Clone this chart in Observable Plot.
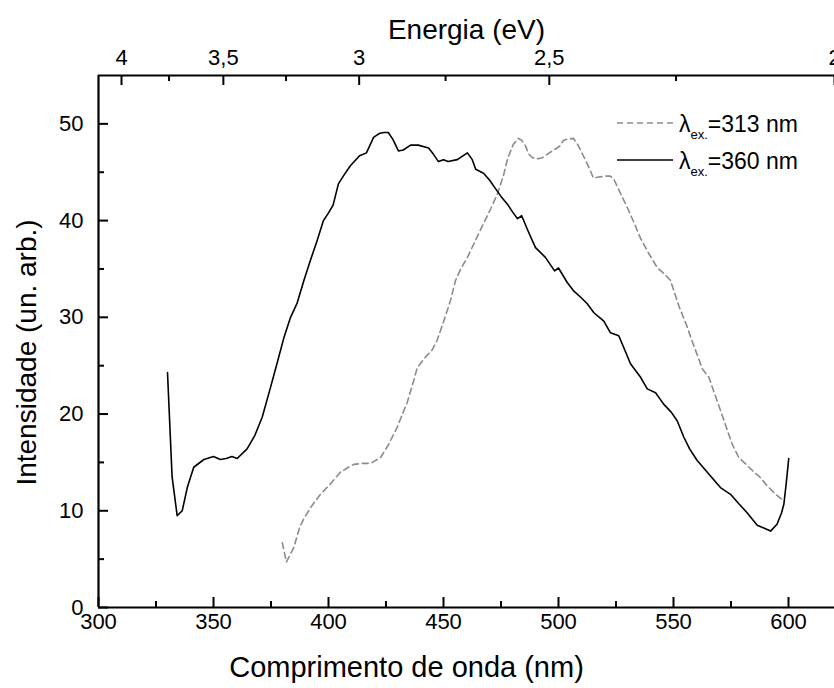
<!DOCTYPE html>
<html>
<head>
<meta charset="utf-8">
<script src="https://cdn.jsdelivr.net/npm/d3@7"></script>
<script src="https://cdn.jsdelivr.net/npm/@observablehq/plot@0.6"></script>
<style>
  html, body { margin: 0; padding: 0; background: #fff; }
  #chart svg { display: block; font-family: "Liberation Sans", Arial, sans-serif; }
</style>
</head>
<body>
<div id="chart"></div>
<script>
// ---- data ----
const lambda360 = [330,332,334.2,336.4,338.6,341.4,345.8,350,353,355.5,358,360.3,364.6,368,371.2,374.5,377.7,380.5,383.5,386.4,389.3,392,395,397.8,400,402,404.3,407,409.6,413.5,416.5,419.6,422,424,426,428,430.4,432.5,435.7,439,443.5,445.5,447.8,450,452,456,460.4,462.5,464,467.4,470,472.6,475,477.8,480,482.2,484,487,490,494.3,498.3,500,503.8,506.7,510,512.5,515.3,519.7,522.6,526.2,528.5,531.3,535.7,538.6,542.2,545.8,549,551.6,554.5,557,560.3,566.1,570.4,574.8,578.5,582,586.4,589.5,592.2,595,597,598,599,600.1];
const intens360 = [24.3,13.5,9.5,10,12.4,14.5,15.3,15.6,15.3,15.4,15.6,15.4,16.4,17.8,19.7,22.5,25.3,27.8,30,31.5,33.8,35.8,37.9,40,40.8,41.6,43.8,44.8,45.7,46.7,47,48.6,49,49.1,49.1,48.4,47.2,47.3,47.8,47.8,47.5,46.9,46.1,46.3,46.1,46.3,47.0,46.3,45.3,44.9,44.2,43.3,42.5,41.7,40.9,40.2,40.5,38.8,37.2,36.2,34.8,35.1,33.6,32.7,32,31.4,30.5,29.6,28.4,28.1,26.8,25.2,23.8,22.6,22.2,21,20.2,19.3,17.6,16.4,15.2,13.6,12.4,11.7,10.7,9.8,8.5,8.2,7.9,8.6,9.8,10.7,12.8,15.4];

const lambda313 = [379.9,381.7,384.9,387.5,389.3,393,396.5,400.9,405.2,408,411,415,418.3,422.6,426,429.8,432,434.2,436.5,438.6,442.2,445,447.2,450.1,453,455.2,457.5,460.4,464,467.4,470.5,473.5,476,478,480.4,482.6,484,485.7,487,488.7,491,493,496,498.7,500.5,502.2,504,506.5,508.5,510.4,513,515.2,517.5,520.4,522.5,524,527,530,533,535.6,539,543,546,548.7,550.5,552.6,555.5,558,560.5,562.5,565.4,568,570.4,573,575.5,578.4,582,585,587.1,590.7,594,598];
const intens313 = [6.7,4.7,6.2,8.3,9.2,10.6,11.7,12.8,14,14.4,14.8,14.9,14.9,15.5,16.8,18.6,19.9,21.2,23,24.8,25.9,26.6,27.6,29.6,31.7,33.8,35,36.2,38,39.7,41.2,42.8,44.6,46.5,47.9,48.5,48.3,47.7,46.9,46.5,46.4,46.5,47,47.4,47.7,48.3,48.4,48.5,47.8,46.9,45.6,44.4,44.5,44.6,44.6,44.3,42.8,41.3,39.7,38.2,36.7,35.1,34.5,33.8,32.5,31,29.3,27.6,26,24.7,23.8,22,20.4,18.6,16.9,15.5,14.7,14,13.6,12.6,11.8,11];

const xMajorTicks = [300,350,400,450,500,550,600];
const xMinorTicks = [325,375,425,475,525,575];
const yMajorTicks = [0,10,20,30,40,50];
const yMinorTicks = [5,15,25,35,45];
const energyMajorTicks = [4,3.5,3,2.5,2];
const energyMinorTicks = [3.75,3.25,2.75,2.25];
const hc = 1240; // eV·nm

const legendLabels = ["313 nm","360 nm"];

// ---- build ----
const series360 = lambda360.map((x,i)=>({x, y: intens360[i]}));
const series313 = lambda313.map((x,i)=>({x, y: intens313[i]}));

const W = 834, H = 688;
const mL = 98, mR = 0, mT = 75, mB = 81;
const frameW = W - mL - mR, frameH = H - mT - mB;
const fmtComma = d => String(d).replace(".", ",");

function legendMark(index, scales, values, dims) {
  const g = d3.create("svg:g");
  const x0 = dims.width - dims.marginRight - 217;
  const rows = [
    {label: legendLabels[0], dash: "6,4", stroke: "#8c8c8c", y: mT + 48},
    {label: legendLabels[1], dash: null, stroke: "#000", y: mT + 85}
  ];
  for (const r of rows) {
    g.append("line").attr("x1", x0).attr("x2", x0 + 56).attr("y1", r.y).attr("y2", r.y)
      .attr("stroke", r.stroke).attr("stroke-width", 1.6)
      .attr("stroke-dasharray", r.dash);
    const t = g.append("text").attr("x", x0 + 62).attr("y", r.y + 9)
      .attr("font-size", 23).attr("fill", "#000").attr("text-anchor", "start");
    t.append("tspan").text("λ");
    t.append("tspan").attr("font-size", 13).attr("dy", 7).text("ex.");
    t.append("tspan").attr("dy", -7).text("=" + r.label);
  }
  return g.node();
}

const chart = Plot.plot({
  width: W, height: H,
  marginLeft: mL, marginRight: mR, marginTop: mT, marginBottom: mB,
  x: {domain: [300, 620], axis: null},
  y: {domain: [0, 55], axis: null},
  style: {fontFamily: "'Liberation Sans', Arial, sans-serif", background: "#fff"},
  marks: [
    // curves
    Plot.line(series313, {x: "x", y: "y", stroke: "#8c8c8c", strokeWidth: 1.6, strokeDasharray: "6,4", curve: "linear"}),
    Plot.line(series360, {x: "x", y: "y", stroke: "#000", strokeWidth: 1.6, curve: "linear"}),
    // frame lines
    Plot.ruleY([0], {stroke: "#000", strokeWidth: 2.2}),
    Plot.ruleY([55], {stroke: "#000", strokeWidth: 2.2}),
    Plot.ruleX([300], {stroke: "#000", strokeWidth: 2.2}),
    // bottom ticks (inward)
    Plot.tickX(xMajorTicks, {x: d => d, insetTop: frameH - 10, stroke: "#000", strokeWidth: 2}),
    Plot.tickX(xMinorTicks, {x: d => d, insetTop: frameH - 6, stroke: "#000", strokeWidth: 2}),
    // top ticks (energy)
    Plot.tickX(energyMajorTicks, {x: e => hc / e, insetBottom: frameH - 10, stroke: "#000", strokeWidth: 2}),
    Plot.tickX(energyMinorTicks, {x: e => hc / e, insetBottom: frameH - 6, stroke: "#000", strokeWidth: 2}),
    // left ticks
    Plot.tickY(yMajorTicks, {y: d => d, insetRight: frameW - 10, stroke: "#000", strokeWidth: 2}),
    Plot.tickY(yMinorTicks, {y: d => d, insetRight: frameW - 6, stroke: "#000", strokeWidth: 2}),
    // tick labels
    Plot.text(xMajorTicks, {x: d => d, frameAnchor: "bottom", dy: 14, text: d => String(d), fontSize: 22, lineAnchor: "middle", fill: "#000"}),
    Plot.text(energyMajorTicks, {x: e => hc / e, frameAnchor: "top", dy: -18, text: e => fmtComma(e), fontSize: 22, lineAnchor: "middle", fill: "#000"}),
    Plot.text(yMajorTicks, {y: d => d, frameAnchor: "left", dx: -15, textAnchor: "end", text: d => String(d), fontSize: 22, lineAnchor: "middle", fill: "#000"}),
    // axis titles
    Plot.text(["Comprimento de onda (nm)"], {frameAnchor: "bottom", dx: -60, dy: 60, fontSize: 29, lineAnchor: "middle", fill: "#000"}),
    Plot.text(["Energia (eV)"], {frameAnchor: "top", dy: -45, fontSize: 28, lineAnchor: "middle", fill: "#000"}),
    Plot.text(["Intensidade (un. arb.)"], {frameAnchor: "left", dx: -71, dy: 11, rotate: -90, textAnchor: "middle", fontSize: 28, lineAnchor: "middle", fill: "#000"}),
    // legend
    legendMark
  ]
});
document.getElementById("chart").appendChild(chart);
</script>
</body>
</html>
